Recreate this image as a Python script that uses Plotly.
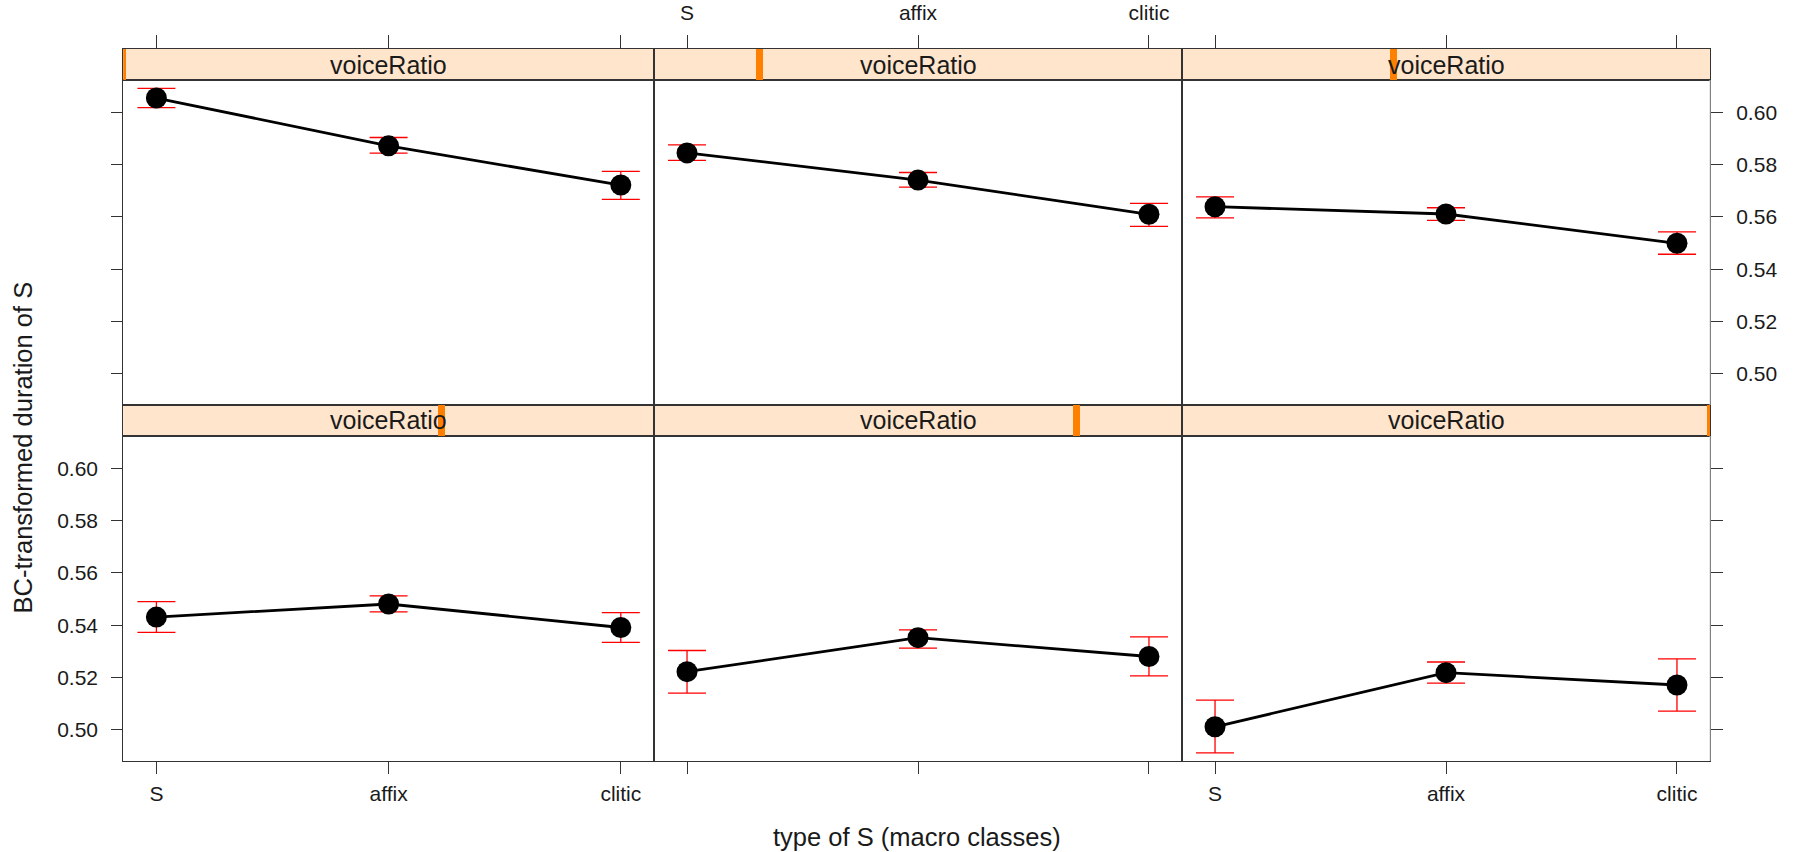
import plotly.graph_objects as go

# ---------------- data ----------------
categories = ["S", "affix", "clitic"]
cat_pos = [1, 2, 3]
voice_ratio = [0.0, 0.2, 0.4, 0.6, 0.8, 1.0]   # position of the conditioning value within its range

fit_1 = [0.6055, 0.5872, 0.5722]
low_1 = [0.6018, 0.5844, 0.5667]
up_1 = [0.6092, 0.5904, 0.5774]

fit_2 = [0.5845, 0.5741, 0.5610]
low_2 = [0.5816, 0.5714, 0.5564]
up_2 = [0.5876, 0.5770, 0.5652]

fit_3 = [0.5639, 0.5611, 0.5499]
low_3 = [0.5596, 0.5587, 0.5457]
up_3 = [0.5677, 0.5635, 0.5543]

fit_4 = [0.5431, 0.5481, 0.5391]
low_4 = [0.5372, 0.5451, 0.5334]
up_4 = [0.5490, 0.5512, 0.5448]

fit_5 = [0.5222, 0.5352, 0.5280]
low_5 = [0.5140, 0.5312, 0.5206]
up_5 = [0.5303, 0.5382, 0.5355]

fit_6 = [0.5011, 0.5218, 0.5171]
low_6 = [0.4911, 0.5178, 0.5071]
up_6 = [0.5113, 0.5259, 0.5271]

y_ticks = [0.50, 0.52, 0.54, 0.56, 0.58, 0.60]
y_tick_labels = ["0.50", "0.52", "0.54", "0.56", "0.58", "0.60"]
y_range = [0.488, 0.6124]
x_range = [0.857, 3.143]

strip_label = "voiceRatio"
x_title = "type of S (macro classes)"
y_title = "BC-transformed duration of S"

fits = [fit_1, fit_2, fit_3, fit_4, fit_5, fit_6]
lows = [low_1, low_2, low_3, low_4, low_5, low_6]
ups = [up_1, up_2, up_3, up_4, up_5, up_6]

# ---------------- layout geometry ----------------
W, H = 1795, 852
FONT = "Liberation Sans, Arial, Helvetica, sans-serif"
LINE = "#333333"
TXT = "#1a1a1a"

col_px = [(123.2, 654.0), (654.0, 1182.0), (1182.0, 1710.0)]
row_plot_px = [(80.0, 405.0), (436.0, 761.0)]
row_strip_px = [(49.0, 80.0), (405.0, 436.0)]


def xdom(c):
    return [col_px[c][0] / W, col_px[c][1] / W]


def ydom(rng):
    return [1 - rng[1] / H, 1 - rng[0] / H]


fig = go.Figure()
layout = dict(
    width=W, height=H, autosize=False,
    margin=dict(l=0, r=0, t=0, b=0),
    paper_bgcolor="white", plot_bgcolor="white",
    showlegend=False, bargap=0,
    font=dict(family=FONT, color=TXT, size=21),
)
shapes = []
annotations = []

for i in range(6):
    r, c = divmod(i, 3)
    n = i + 1          # data axes 1..6
    s = i + 7          # strip axes 7..12
    xa, ya = f"x{n}", f"y{n}"
    xs, ys = f"x{s}", f"y{s}"

    # ---- data axes ----
    xkw = dict(domain=xdom(c), anchor=ya, range=x_range, showgrid=False, zeroline=False,
               showline=True, mirror=True, linecolor=LINE, linewidth=1,
               tickvals=cat_pos, ticktext=categories, tickfont=dict(size=21, family=FONT, color=TXT))
    if r == 1:
        xkw.update(ticks="outside", ticklen=12, tickcolor=LINE, tickwidth=1,
                   showticklabels=(c != 1), ticklabelstandoff=2)
    else:
        xkw.update(ticks="", showticklabels=False)

    ykw = dict(domain=ydom(row_plot_px[r]), anchor=xa, range=y_range, showgrid=False, zeroline=False,
               showline=True, mirror=True, linecolor=LINE, linewidth=1,
               tickvals=y_ticks, ticktext=y_tick_labels, tickfont=dict(size=21, family=FONT, color=TXT))
    if c == 0:
        ykw.update(side="left", ticks="outside", ticklen=11, tickcolor=LINE, tickwidth=1,
                   showticklabels=(r == 1), ticklabelstandoff=9)
    elif c == 2:
        ykw.update(side="right", ticks="outside", ticklen=12, tickcolor=LINE, tickwidth=1,
                   showticklabels=(r == 0), ticklabelstandoff=9)
    else:
        ykw.update(ticks="", showticklabels=False)

    layout[f"xaxis{n}"] = xkw
    layout[f"yaxis{n}"] = ykw

    # ---- strip axes ----
    sxk = dict(domain=xdom(c), anchor=ys, range=x_range, showgrid=False, zeroline=False,
               showline=True, mirror=True, linecolor=LINE, linewidth=1,
               tickvals=cat_pos, ticktext=categories, tickfont=dict(size=21, family=FONT, color=TXT))
    if r == 0:
        sxk.update(side="top", ticks="outside", ticklen=13, tickcolor=LINE, tickwidth=1,
                   showticklabels=(c == 1), ticklabelstandoff=7)
    else:
        sxk.update(ticks="", showticklabels=False)
    syk = dict(domain=ydom(row_strip_px[r]), anchor=xs, range=[0, 1], showgrid=False, zeroline=False,
               showline=True, mirror=True, linecolor=LINE, linewidth=1,
               ticks="", showticklabels=False)
    layout[f"xaxis{s}"] = sxk
    layout[f"yaxis{s}"] = syk

    # strip background
    shapes.append(dict(type="rect", xref=f"{xs} domain", yref=f"{ys} domain",
                       x0=0, x1=1, y0=0, y1=1, fillcolor="#FFE5CC",
                       line=dict(width=0), layer="below"))
    annotations.append(dict(text=strip_label, xref=f"{xs} domain", yref=f"{ys} domain",
                            x=0.5, y=0.5, xanchor="center", yanchor="middle", showarrow=False,
                            font=dict(size=25, family=FONT, color=TXT)))

    # conditioning value indicator: voiceRatio mapped onto the strip's horizontal scale
    v = voice_ratio[i]
    v_strip = x_range[0] + v * (x_range[1] - x_range[0])
    fig.add_trace(go.Bar(
        x=[v_strip], y=[1], base=0, width=0.03, xaxis=xs, yaxis=ys,
        marker=dict(color="#FF7F00", line=dict(width=0)), hoverinfo="skip",
    ))

    # ---- effect trace ----
    f, lo, up = fits[i], lows[i], ups[i]
    fig.add_trace(go.Scatter(
        x=cat_pos, y=f, xaxis=xa, yaxis=ya, mode="lines+markers",
        line=dict(color="black", width=2.8),
        marker=dict(color="black", size=21, symbol="circle"),
        error_y=dict(type="data", symmetric=False,
                     array=[u - m for u, m in zip(up, f)],
                     arrayminus=[m - l for m, l in zip(f, lo)],
                     color="#FF0000", thickness=1.3, width=19),
        hoverinfo="skip",
    ))

# light right-hand frame edge of the last column
for n in (3, 6):
    shapes.append(dict(type="line", xref=f"x{n} domain", yref=f"y{n} domain",
                       x0=1, x1=1, y0=0, y1=1, line=dict(color="#d0d0d0", width=1), layer="above"))

annotations.append(dict(text=x_title, xref="paper", yref="paper",
                        x=(col_px[0][0] + col_px[2][1]) / 2 / W, y=1 - 837 / H,
                        xanchor="center", yanchor="middle", showarrow=False,
                        font=dict(size=25.5, family=FONT, color=TXT)))
annotations.append(dict(text=y_title, xref="paper", yref="paper",
                        x=23 / W, y=1 - 447.5 / H, textangle=-90,
                        xanchor="center", yanchor="middle", showarrow=False,
                        font=dict(size=25.5, family=FONT, color=TXT)))

layout["shapes"] = shapes
layout["annotations"] = annotations
fig.update_layout(**layout)
fig.write_html(
    "out.html",
    config={"displayModeBar": False},
    post_script="document.body.style.margin='0';document.body.style.overflow='hidden';",
)
